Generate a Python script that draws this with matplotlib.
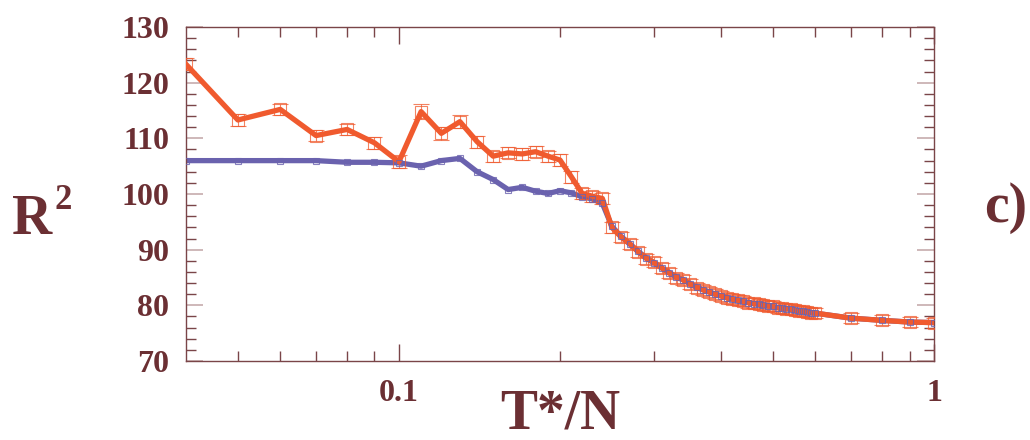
import matplotlib
matplotlib.use('Agg')
import matplotlib.pyplot as plt
from matplotlib.ticker import MultipleLocator, FixedLocator, NullFormatter

# temperature ratio T*/N
t_ratio = [0.04, 0.05, 0.06, 0.07, 0.08, 0.09, 0.10, 0.11, 0.12, 0.13,
           0.14, 0.15, 0.16, 0.17, 0.18, 0.19, 0.20, 0.21, 0.22, 0.23,
           0.24, 0.25, 0.26, 0.27, 0.28, 0.29, 0.30, 0.31, 0.32, 0.33,
           0.34, 0.35, 0.36, 0.37, 0.38, 0.39, 0.40, 0.41, 0.42, 0.43,
           0.44, 0.45, 0.46, 0.47, 0.48, 0.49, 0.50, 0.51, 0.52, 0.53,
           0.54, 0.55, 0.56, 0.57, 0.58, 0.59, 0.60, 0.70, 0.80, 0.90, 1.00]

r2_red = [123.3, 113.3, 115.2, 110.5, 111.6, 109.2, 105.8, 114.8, 110.9, 113.0,
          109.4, 106.8, 107.4, 107.2, 107.6, 106.8, 106.1, 103.1, 100.1, 99.6,
          99.2, 94.0, 92.3, 91.1, 89.6, 88.4, 87.7, 86.7, 85.8, 85.0,
          84.6, 83.8, 83.2, 82.8, 82.4, 82.0, 81.7, 81.4, 81.1, 80.9,
          80.7, 80.5, 80.4, 80.2, 80.1, 79.9, 79.8, 79.6, 79.5, 79.4,
          79.3, 79.1, 79.0, 78.9, 78.8, 78.7, 78.6, 77.7, 77.3, 77.0, 76.9]

r2_red_err = [1.1, 1.0, 1.0, 1.0, 1.0, 1.1, 1.2, 1.3, 1.2, 1.2,
              1.1, 1.0, 1.0, 1.0, 1.0, 1.0, 1.1, 1.1, 1.0, 1.0,
              1.0, 1.0, 0.9, 0.9, 0.9, 0.9, 0.9, 0.9, 0.9, 0.9,
              0.9, 0.9, 0.9, 0.9, 0.9, 0.9, 0.9, 0.9, 0.9, 0.9,
              0.9, 0.9, 0.9, 0.9, 0.9, 0.9, 0.9, 0.9, 0.9, 0.9,
              0.9, 0.9, 0.9, 0.9, 0.9, 0.9, 0.9, 0.9, 0.9, 0.9, 0.9]

r2_blue = [106.0, 106.0, 106.0, 106.0, 105.7, 105.7, 105.6, 105.0, 106.0, 106.4,
           104.0, 102.6, 100.8, 101.2, 100.5, 100.1, 100.6, 100.2, 99.5, 99.1,
           98.3, 94.2, 92.4, 91.0, 89.7, 88.5, 87.6, 86.7, 85.9, 85.1,
           84.6, 83.9, 83.3, 82.8, 82.4, 82.0, 81.7, 81.4, 81.1, 80.9,
           80.7, 80.5, 80.3, 80.2, 80.0, 79.9, 79.8, 79.6, 79.5, 79.4,
           79.3, 79.1, 79.0, 78.9, 78.8, 78.7, 78.6, 77.7, 77.3, 77.0, 76.9]

RED = '#f05a2e'
BLUE = '#6a62ae'
TEXT = '#6b2f33'
SPINE = '#7a4548'
MAJOR = '#c6acad'

plt.rcParams['font.family'] = ['Liberation Serif', 'DejaVu Serif']
plt.rcParams['font.weight'] = 'bold'

fig = plt.figure(figsize=(10.3, 4.4), dpi=100)
ax = fig.add_axes([0.1806, 0.1795, 0.7262, 0.7591])

ax.plot(t_ratio, r2_blue, color=BLUE, lw=3.8, zorder=2, solid_joinstyle='round')
ax.plot(t_ratio, r2_red, color=RED, lw=3.8, zorder=3, solid_joinstyle='round')
ax.errorbar(t_ratio, r2_red, yerr=r2_red_err, fmt='s', ms=8, mfc='none',
            mec=RED, mew=0.8, ecolor=RED, elinewidth=0.8, capsize=5.5,
            capthick=0.8, alpha=0.75, zorder=4)
ax.plot(t_ratio, r2_blue, 's', ms=4.5, mfc='none', mec=BLUE, mew=0.8,
        alpha=0.8, zorder=5)

ax.set_xscale('log')
ax.set_xlim(0.04, 1.0)
ax.set_ylim(70, 130)

ax.xaxis.set_major_locator(FixedLocator([0.1, 1.0]))
ax.set_xticklabels(['0.1', '1'])
ax.xaxis.set_minor_locator(FixedLocator([0.05, 0.06, 0.07, 0.08, 0.09,
                                         0.2, 0.3, 0.4, 0.5, 0.6, 0.7, 0.8, 0.9]))
ax.xaxis.set_minor_formatter(NullFormatter())
ax.yaxis.set_major_locator(MultipleLocator(10))
ax.yaxis.set_minor_locator(MultipleLocator(2))

for s in ax.spines.values():
    s.set_color(SPINE)
    s.set_linewidth(1.0)

ax.tick_params(which='both', direction='in', top=True, right=True,
               labelsize=23, labelcolor=TEXT)
ax.tick_params(axis='y', which='major', length=12, width=1.2, color=MAJOR, pad=12)
ax.tick_params(axis='y', which='minor', length=7, width=1.0, color=SPINE)
ax.tick_params(axis='x', which='major', length=12, width=1.0, color=SPINE, pad=13)
ax.tick_params(axis='x', which='minor', length=7, width=1.0, color=SPINE)
for lab in ax.get_xticklabels() + ax.get_yticklabels():
    lab.set_fontweight('bold')

fig.text(0.544, 0.0, 'T*/N', fontsize=40, fontweight='bold', color=TEXT,
         ha='center', va='bottom')
fig.text(0.012, 0.5, 'R', fontsize=40, fontweight='bold', color=TEXT,
         ha='left', va='center')
fig.text(0.053, 0.545, '2', fontsize=25, fontweight='bold', color=TEXT,
         ha='left', va='center')
fig.text(0.976, 0.527, 'c)', fontsize=40, fontweight='bold', color=TEXT,
         ha='center', va='center')

fig.savefig('out.png', dpi=100)
